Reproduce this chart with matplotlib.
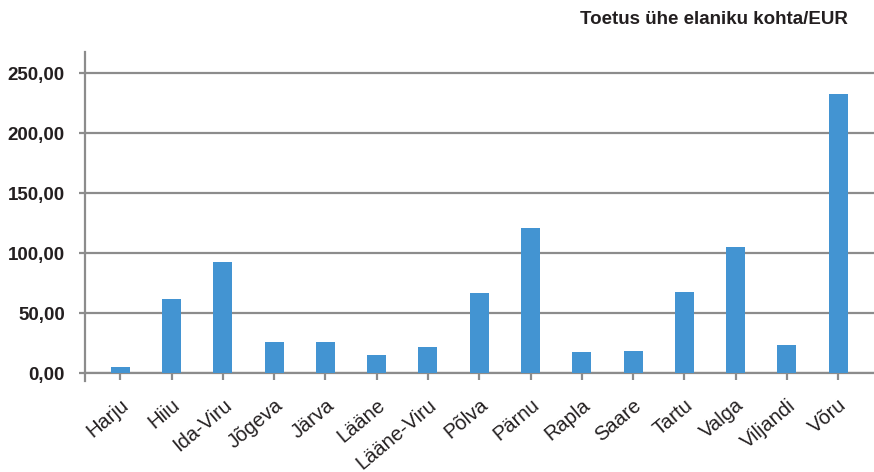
import numpy as np
import matplotlib.pyplot as plt
from matplotlib.transforms import ScaledTranslation

plt.rcParams['font.family'] = ['Liberation Sans', 'DejaVu Sans']

counties = ['Harju', 'Hiiu', 'Ida-Viru', 'Jõgeva', 'Järva', 'Lääne', 'Lääne-Viru',
            'Põlva', 'Pärnu', 'Rapla', 'Saare', 'Tartu', 'Valga', 'Viljandi', 'Võru']
support = [5, 62, 93, 26, 26, 15, 22, 67, 121, 18, 19, 68, 105, 24, 233]
yticks = [0, 50, 100, 150, 200, 250]
ytick_labels = ['0,00', '50,00', '100,00', '150,00', '200,00', '250,00']
title = 'Toetus ühe elaniku kohta/EUR'

grey = '#8c8c8c'
blue = '#4394d2'
ink = '#231f20'

fig = plt.figure(figsize=(8.74, 4.72), dpi=100)
ax = fig.add_axes([85 / 874, 1 - 373.3 / 472, 1 - 85 / 874, (373.3 - 51.7) / 472])

x = np.arange(len(counties))
ax.bar(x, support, width=0.37, color=blue, zorder=3)

ax.set_xlim(-0.69, 14.7)
ax.set_ylim(0, 268)
ax.set_yticks(yticks)
ax.set_yticklabels(ytick_labels, fontsize=13.5, fontweight='bold', color=ink)
ax.set_xticks(x)
ax.set_xticklabels(counties, rotation=40, ha='right', va='top', rotation_mode='anchor',
                   fontsize=14.5, color=ink)
# nudge the rotated labels a little left, like the original
shift = ScaledTranslation(-0.03, 0, fig.dpi_scale_trans)
for lbl in ax.get_xticklabels():
    lbl.set_transform(lbl.get_transform() + shift)

ax.yaxis.grid(True, color=grey, linewidth=1.6, zorder=1)
ax.set_axisbelow(True)
for side in ['top', 'right']:
    ax.spines[side].set_visible(False)
ax.spines['left'].set_color(grey)
ax.spines['left'].set_linewidth(1.6)
ax.spines['left'].set_bounds(-6, 268)
ax.spines['bottom'].set_color(grey)
ax.spines['bottom'].set_linewidth(1.6)
ax.tick_params(axis='y', length=4.5, width=1.6, color=grey, pad=10)
ax.tick_params(axis='x', length=5, width=1.6, color=grey, pad=11)

fig.text(848 / 874, 1 - 19 / 472, title, ha='right', va='center',
         fontsize=13.5, fontweight='bold', color=ink)

fig.savefig('out.png', dpi=100)
